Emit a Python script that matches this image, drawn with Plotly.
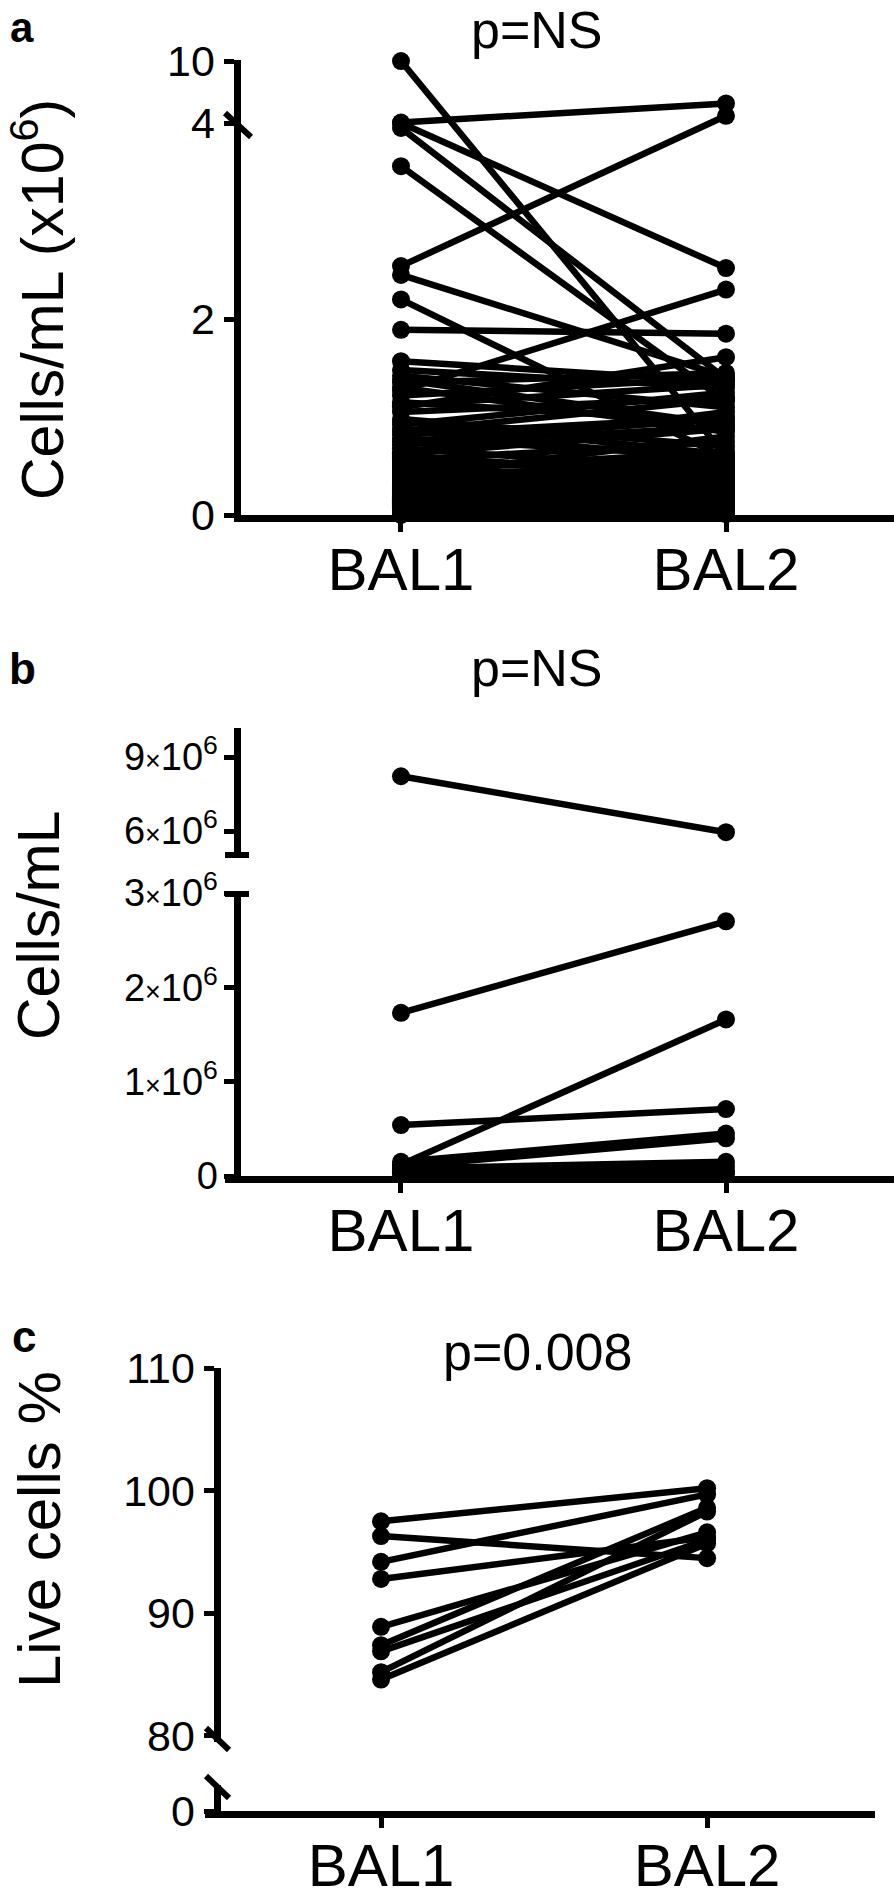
import plotly.graph_objects as go

W, H = 894, 1893

categories = ["BAL1", "BAL2"]

# ---- Panel a: cells/mL (x10^6), paired BAL1 -> BAL2 ----
a_bal1 = [10.0, 4.05, 4.0, 3.95, 3.56, 2.54, 2.45, 2.2, 1.89, 1.57, 1.27,
          1.48, 1.42, 1.35, 1.30, 1.22, 1.15, 1.10, 1.05, 0.98, 0.92,
          0.88, 0.82, 0.78, 0.72, 0.68, 0.64, 0.60, 0.56, 0.52, 0.49,
          0.45, 0.42, 0.39, 0.36, 0.33, 0.30, 0.28, 0.25, 0.22, 0.20,
          0.18, 0.15, 0.13, 0.11, 0.09, 0.07, 0.05, 0.04, 0.03, 0.02, 0.01,
          0.58, 0.55, 0.50, 0.47, 0.44, 0.40, 0.38, 0.35, 0.32, 0.29,
          0.27, 0.24, 0.21, 0.19, 0.17, 0.16, 0.14, 0.12, 0.10, 0.08,
          0.06, 0.05, 0.04, 0.03, 0.02, 0.02, 0.01, 0.01, 0.005, 0.0,
          1.38, 1.12, 0.95, 0.85, 0.75, 0.62]
a_bal2 = [0.6, 5.9, 2.52, 1.39, 1.16, 4.7, 1.41, 0.58, 1.85, 1.36, 2.30,
          1.30, 1.10, 1.45, 0.85, 1.40, 0.95, 1.61, 1.20, 0.70, 1.25,
          0.55, 1.00, 0.60, 0.90, 0.45, 1.05, 0.40, 0.75, 0.50, 0.30,
          0.65, 0.35, 0.80, 0.25, 0.42, 0.20, 0.55, 0.15, 0.38, 0.10,
          0.28, 0.22, 0.12, 0.32, 0.08, 0.18, 0.05, 0.14, 0.03, 0.06, 0.02,
          0.12, 0.48, 0.22, 0.58, 0.10, 0.52, 0.30, 0.60, 0.44, 0.08,
          0.50, 0.36, 0.26, 0.46, 0.04, 0.33, 0.20, 0.41, 0.16, 0.27,
          0.11, 0.35, 0.07, 0.19, 0.09, 0.24, 0.04, 0.13, 0.02, 0.01,
          0.92, 1.33, 0.62, 1.18, 0.98, 0.88]
a_ticks = [0, 2, 4, 10]
a_break = 4.0

# ---- Panel b: cells/mL ----
b_bal1 = [8.22e6, 1.73e6, 0.54e6, 0.12e6, 0.15e6, 0.10e6, 0.08e6, 0.05e6, 0.03e6, 0.02e6]
b_bal2 = [5.95e6, 2.70e6, 0.71e6, 1.66e6, 0.45e6, 0.40e6, 0.15e6, 0.10e6, 0.05e6, 0.02e6]
b_ticks_low = [0, 1e6, 2e6, 3e6]
b_ticks_high = [6e6, 9e6]
b_break = 3e6

# ---- Panel c: live cells % ----
c_bal1 = [97.5, 96.3, 94.2, 92.8, 88.9, 87.4, 86.9, 85.2, 84.6]
c_bal2 = [100.2, 94.5, 99.7, 96.2, 96.6, 98.6, 96.0, 98.3, 95.7]
c_ticks_high = [80, 90, 100, 110]
c_ticks_low = [0]

FONT = "Liberation Sans, Arial, sans-serif"
LW_AX = 7
LW_DATA = 6.5
MS = 18


def px(x):
    return x / W


def py(y):
    return 1 - y / H


# broken-axis scale for panel a (upper segment compressed)
A_K = 0.1054


def a_scale(v):
    return v if v <= a_break else a_break + (v - a_break) * A_K


def pairs(b1, b2, f=lambda v: v):
    xs, ys = [], []
    for v1, v2 in zip(b1, b2):
        xs += [0, 1, None]
        ys += [f(v1), f(v2), None]
    return xs, ys


def sci(v):
    if v == 0:
        return "0"
    return f"{int(round(v / 1e6))}<span style='font-size:27px'>\u00d7</span>10<sup>6</sup>"


fig = go.Figure()
style = dict(mode="lines+markers", line=dict(color="black", width=LW_DATA),
             marker=dict(color="black", size=MS), cliponaxis=False,
             hoverinfo="skip", showlegend=False)

xa, ya = pairs(a_bal1, a_bal2, a_scale)
fig.add_trace(go.Scatter(x=xa, y=ya, xaxis="x", yaxis="y", **style))

lo1 = [v for v, w in zip(b_bal1, b_bal2) if v <= b_break and w <= b_break]
lo2 = [w for v, w in zip(b_bal1, b_bal2) if v <= b_break and w <= b_break]
hi1 = [v for v, w in zip(b_bal1, b_bal2) if v > b_break and w > b_break]
hi2 = [w for v, w in zip(b_bal1, b_bal2) if v > b_break and w > b_break]
xb, yb = pairs(lo1, lo2)
fig.add_trace(go.Scatter(x=xb, y=yb, xaxis="x2", yaxis="y2", **style))
xb2, yb2 = pairs(hi1, hi2)
fig.add_trace(go.Scatter(x=xb2, y=yb2, xaxis="x2", yaxis="y3", **style))

xc, yc = pairs(c_bal1, c_bal2)
fig.add_trace(go.Scatter(x=xc, y=yc, xaxis="x3", yaxis="y5", **style))
fig.add_trace(go.Scatter(x=[0], y=[0], xaxis="x3", yaxis="y4", mode="markers",
                         marker=dict(size=0, opacity=0), hoverinfo="skip", showlegend=False))

ax_common = dict(showline=True, linewidth=LW_AX, linecolor="black", showgrid=False,
                 zeroline=False, ticks="outside", ticklen=10, tickwidth=5,
                 tickcolor="black", fixedrange=True, automargin=False)
xfont = dict(family=FONT, size=60, color="black")
yfont = dict(family=FONT, size=43, color="black")
bfont = dict(family=FONT, size=38, color="black")
xax = dict(tickvals=[0, 1], ticktext=categories, tickfont=xfont, ticklabelstandoff=-14, **ax_common)

fig.update_layout(
    template="none",
    width=W, height=H, margin=dict(l=0, r=0, t=0, b=0, pad=0), autosize=False,
    paper_bgcolor="white", plot_bgcolor="white", showlegend=False,
    xaxis=dict(domain=[px(240.5), 1], range=[-0.4938, 1.5169], anchor="y", **xax),
    yaxis=dict(domain=[py(515), py(60)], range=[0, 4.643], anchor="x",
               tickvals=[a_scale(t) for t in a_ticks], ticktext=[str(t) for t in a_ticks],
               tickfont=yfont, **ax_common),
    xaxis2=dict(domain=[px(240.5), 1], range=[-0.4938, 1.5169], anchor="y2", **xax),
    yaxis2=dict(domain=[py(1176), py(893)], range=[0, 3e6], anchor="x2",
                tickvals=b_ticks_low, ticktext=[sci(t) for t in b_ticks_low],
                tickfont=bfont, ticklabelstandoff=-2, **ax_common),
    yaxis3=dict(domain=[py(855), py(728)], range=[5.027e6, 10.176e6], anchor="x2",
                tickvals=b_ticks_high, ticktext=[sci(t) for t in b_ticks_high],
                tickfont=bfont, ticklabelstandoff=-2, **ax_common),
    xaxis3=dict(domain=[px(220.5), px(875)], range=[-0.4923, 1.515], anchor="y4", **xax),
    yaxis4=dict(domain=[py(1811), py(1785)], range=[0, 2.6], anchor="x3",
                tickvals=c_ticks_low, ticktext=[str(t) for t in c_ticks_low],
                tickfont=yfont, **ax_common),
    yaxis5=dict(domain=[py(1742), py(1368)], range=[79.51, 110], anchor="x3",
                tickvals=c_ticks_high, ticktext=[str(t) for t in c_ticks_high],
                tickfont=yfont, **ax_common),
)

shapes = []


def seg(x0, y0, x1, y1, w=6):
    shapes.append(dict(type="line", xref="paper", yref="paper",
                       x0=px(x0), y0=py(y0), x1=px(x1), y1=py(y1),
                       line=dict(color="black", width=w)))


seg(225, 113, 251, 137)           # panel a break mark
seg(225, 855, 249, 855)           # panel b caps
seg(225, 894, 249, 894)
seg(225, 1179.5, 241, 1179.5, LW_AX)  # panel b x-axis overhang
seg(206, 1728, 229, 1750)         # panel c slashes
seg(206, 1776, 229, 1798)
seg(205, 1814.5, 221, 1814.5, LW_AX)  # panel c x-axis overhang
fig.update_layout(shapes=shapes)

ann = []


def text(x, y, s, size, angle=0, bold=False):
    ann.append(dict(x=px(x), y=py(y), xref="paper", yref="paper", text=f"<b>{s}</b>" if bold else s,
                    showarrow=False, xanchor="center", yanchor="middle", textangle=angle,
                    font=dict(family=FONT, size=size, color="black")))


text(22, 27, "a", 42, bold=True)
text(537, 30, "p=NS", 52)
text(39, 300, "Cells/mL (x10<sup>6</sup>)", 59, angle=-90)
text(22, 668, "b", 44, bold=True)
text(537, 668, "p=NS", 52)
text(39, 925, "Cells/mL", 59, angle=-90)
text(24, 1336, "c", 44, bold=True)
text(537, 1352, "p=0.008", 52)
text(39, 1530, "Live cells %", 60, angle=-90)
fig.update_layout(annotations=ann)

page_fix = (
    "document.documentElement.style.margin='0';"
    "document.body.style.margin='0';document.body.style.padding='0';"
    "document.documentElement.style.overflow='hidden';document.body.style.overflow='hidden';"
    "var g=document.getElementById('{plot_id}');"
    "g.parentNode.style.fontSize='0';g.parentNode.style.lineHeight='0';"
    "g.style.position='absolute';g.style.left='0px';g.style.top='0px';"
)
fig.write_html("out.html", post_script=page_fix, config={"displayModeBar": False})
